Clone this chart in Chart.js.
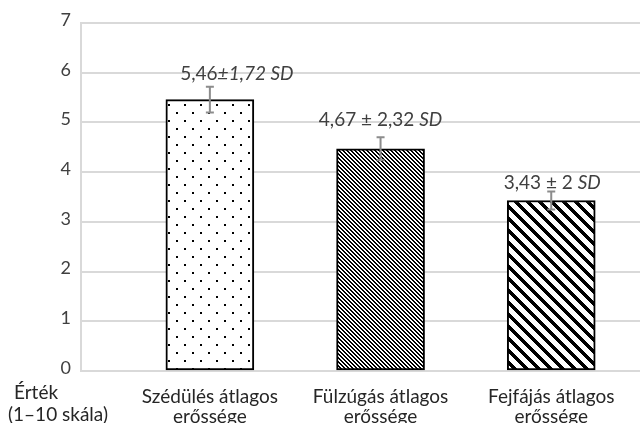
<!DOCTYPE html>
<html>
<head>
<meta charset="utf-8">
<script src="https://cdn.jsdelivr.net/npm/chart.js@4"></script>
<style>
html, body { margin: 0; padding: 0; background: #fff; overflow: hidden; }
#wrap { position: relative; width: 640px; height: 423px; }
</style>
</head>
<body>
<div id="wrap"><canvas id="myChart"></canvas></div>
<script>
let categories = [["Szédülés átlagos", "erőssége"], ["Fülzúgás átlagos", "erőssége"], ["Fejfájás átlagos", "erőssége"]];
let means = [5.46, 4.47, 3.43];
let errBars = [0.26, 0.23, 0.18];
let labelPlain = ["5,46", "4,67 ± 2,32 ", "3,43 ± 2 "];
let labelItalic = ["±1,72 SD", "SD", "SD"];
let yMax = 7;
let axisNote = ["Érték", "(1–10 skála)"];

let ctx = document.getElementById("myChart").getContext("2d");

function makeTile(size, draw) {
    let c = document.createElement("canvas");
    c.width = size;
    c.height = size;
    let g = c.getContext("2d");
    g.fillStyle = "#fff";
    g.fillRect(0, 0, size, size);
    g.fillStyle = "#000";
    draw(g, size);
    return ctx.createPattern(c, "repeat");
}

function hatch(black) {
    return function (g, s) {
        for (let yy = 0; yy < s; yy++) {
            for (let xx = 0; xx < s; xx++) {
                if ((((xx - yy) % s) + s) % s < black) g.fillRect(xx, yy, 1, 1);
            }
        }
    };
}

let dots = makeTile(16, function (g) {
    g.fillRect(0, 0, 2, 2);
    g.fillRect(8, 8, 2, 2);
});
let fine = makeTile(4, hatch(2));
let wide = makeTile(12, hatch(5));

const FONT = "Lato, 'Open Sans', sans-serif";

// error bars, value labels and the left note
const extras = {
    id: "extras",
    afterDatasetsDraw(chart, args, opts) {
        const c = chart.ctx;
        const x = chart.scales.x;
        const y = chart.scales.y;
        c.save();
        c.strokeStyle = "#8c8c8c";
        c.lineWidth = 2;
        means.forEach(function (m, i) {
            let px = x.getPixelForValue(i);
            let top = y.getPixelForValue(m + errBars[i]);
            let bot = y.getPixelForValue(m - errBars[i]);
            c.beginPath();
            c.moveTo(px, top); c.lineTo(px, bot);
            c.moveTo(px - 4, top); c.lineTo(px + 4, top);
            c.moveTo(px - 4, bot); c.lineTo(px + 4, bot);
            c.stroke();

            let f1 = "19px " + FONT;
            let f2 = "italic 19px " + FONT;
            c.font = f1;
            let w1 = c.measureText(labelPlain[i]).width;
            c.font = f2;
            let w2 = c.measureText(labelItalic[i]).width;
            let lx = px + opts.dx[i] - (w1 + w2) / 2;
            let ly = top - opts.gap[i];
            c.fillStyle = "#404040";
            c.textBaseline = "alphabetic";
            c.textAlign = "left";
            c.font = f1;
            c.fillText(labelPlain[i], lx, ly);
            c.font = f2;
            c.fillText(labelItalic[i], lx + w1, ly);
        });
        c.font = "19px " + FONT;
        c.fillStyle = "#262626";
        c.textAlign = "left";
        c.fillText(axisNote[0], 14, y.bottom + 28);
        c.fillText(axisNote[1], 8, y.bottom + 50);
        c.restore();
    }
};

new Chart(ctx, {
    type: "bar",
    data: {
        datasets: [{
            data: means.map(function (v, i) { return { x: i, y: v }; }),
            backgroundColor: [dots, fine, wide],
            borderColor: "#000",
            borderWidth: 2,
            borderSkipped: false,
            barThickness: 88
        }]
    },
    options: {
        responsive: true,
        maintainAspectRatio: false,
        animation: false,
        layout: { padding: { top: 23, right: 0, bottom: 0, left: 0 } },
        plugins: {
            legend: { display: false },
            tooltip: { enabled: false },
            extras: { dx: [27, 0, 1], gap: [7, 11, 3] }
        },
        scales: {
            x: {
                type: "linear",
                offset: false,
                min: -0.755,
                max: 2.52,
                grid: { display: false, offset: false },
                border: { display: false },
                afterBuildTicks: function (axis) {
                    axis.ticks = categories.map(function (c, i) { return { value: i }; });
                },
                afterFit: function (axis) { axis.height = 52; },
                ticks: {
                    autoSkip: false,
                    maxRotation: 0,
                    padding: 8,
                    color: "#262626",
                    font: { family: FONT, size: 19, lineHeight: 1.05 },
                    callback: function (v) { return categories[v]; }
                }
            },
            y: {
                min: 0,
                max: yMax,
                grid: { color: "#d9d9d9", lineWidth: 2, drawTicks: false },
                border: { display: true, color: "#d9d9d9", width: 2 },
                afterFit: function (axis) { axis.width = 81; },
                ticks: {
                    stepSize: 1,
                    padding: 10,
                    labelOffset: -3,
                    color: "#404040",
                    font: { family: FONT, size: 18 }
                }
            }
        }
    },
    plugins: [extras]
});
</script>
</body>
</html>
